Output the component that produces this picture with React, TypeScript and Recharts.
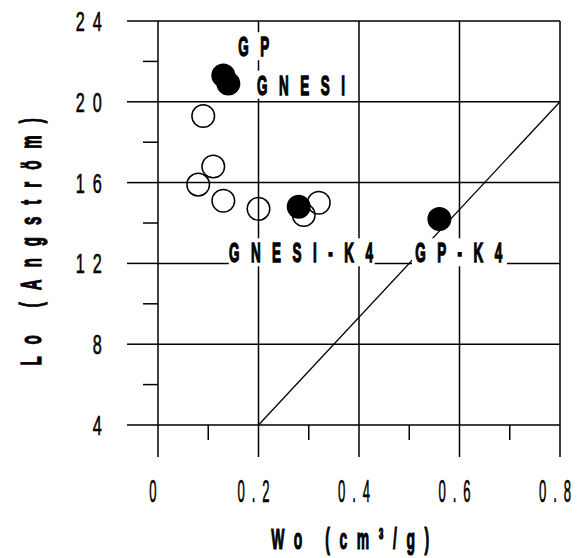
import { ScatterChart, Scatter, XAxis, YAxis, CartesianGrid, ReferenceLine } from "recharts"

// open circles (unlabelled samples)
const openW = [0.09, 0.11, 0.08, 0.13, 0.2, 0.29, 0.32]
const openL = [19.3, 16.8, 15.9, 15.1, 14.7, 14.4, 15.0]

// filled circles (named samples)
const solidNames = ["GP", "GNESI", "GNESI-K4", "GP-K4"]
const solidW = [0.13, 0.14, 0.28, 0.56]
const solidL = [21.3, 20.9, 14.8, 14.2]

// annotation anchors, in data units
const labelText = ["GP", "GNESI", "GNESI-K4", "GP-K4"]
const labelW = [0.192, 0.286, 0.286, 0.6]
const labelL = [22.75, 20.85, 12.55, 12.55]

// diagonal reference segment
const diagW = [0.2, 0.8]
const diagL = [4, 20]

const xTicks = [0, 0.1, 0.2, 0.3, 0.4, 0.5, 0.6, 0.7, 0.8]
const yTicks = [4, 6, 8, 10, 12, 14, 16, 18, 20, 22, 24]
const xGrid = [0, 0.2, 0.4, 0.6, 0.8]
const yGrid = [4, 8, 12, 16, 20, 24]

const W = 581
const H = 558
const TOP = 21
const LEFT = 158
const BOTTOM = 425
const FONT = "'Liberation Sans', Arial, sans-serif"

const openData = openW.map((w, i) => ({ w, l: openL[i] }))
const solidData = solidW.map((w, i) => ({ w, l: solidL[i], name: solidNames[i] }))
const labelData = labelW.map((w, i) => ({ w, l: labelL[i], text: labelText[i] }))

const XTick = (props: any) => {
  const { x, payload } = props
  const v = payload.value
  const major = Math.round(v * 10) % 2 === 0
  const txt = v === 0 ? "0" : v.toFixed(1)
  return (
    <g>
      <line x1={x} x2={x} y1={BOTTOM} y2={BOTTOM + (major ? 32 : 15)} stroke="#000" strokeWidth={1.5} />
      {major && (
        <text
          transform={`translate(${x - 1.5},502) scale(0.41,1)`}
          textAnchor="middle"
          fontSize={32}
          letterSpacing={17}
          fontFamily={FONT}
          fill="#000"
          stroke="#000"
          strokeWidth={0.7}
        >
          {txt}
        </text>
      )}
    </g>
  )
}

const YTick = (props: any) => {
  const { y, payload } = props
  const v = payload.value
  const major = v % 4 === 0
  return (
    <g>
      <line x1={major ? 127 : 143} x2={LEFT} y1={y} y2={y} stroke="#000" strokeWidth={1.5} />
      {major && (
        <text
          transform={`translate(110,${y + 10}) scale(0.58,1)`}
          textAnchor="end"
          fontSize={28}
          letterSpacing={14}
          fontFamily={FONT}
          fill="#000"
          stroke="#000"
          strokeWidth={0.6}
        >
          {String(v)}
        </text>
      )}
    </g>
  )
}

const OpenDot = (props: any) => (
  <circle cx={props.cx} cy={props.cy} r={11.3} fill="none" stroke="#000" strokeWidth={1.5} />
)

const SolidDot = (props: any) => <circle cx={props.cx} cy={props.cy} r={12} fill="#000" />

const Tag = (props: any) => {
  const { cx, cy, payload } = props
  const bw = payload.text.length * 17 + 10
  return (
    <g>
      <rect x={cx - bw / 2} y={cy - 14} width={bw} height={28} fill="#fff" />
      <text
        transform={`translate(${cx + 5},${cy + 10}) scale(0.48,1)`}
        textAnchor="middle"
        fontSize={28}
        fontWeight="bold"
        letterSpacing={24}
        fontFamily={FONT}
        fill="#000"
        stroke="#000"
        strokeWidth={1.4}
      >
        {payload.text}
      </text>
    </g>
  )
}

export default function App() {
  return (
    <div style={{ position: "absolute", left: 0, top: 0, width: W, height: H, background: "#fff" }}>
      <ScatterChart width={W} height={H} margin={{ top: TOP, right: 21, left: 0, bottom: 0 }}>
        <CartesianGrid
          stroke="#000"
          strokeWidth={1.5}
          verticalValues={xGrid}
          horizontalValues={yGrid}
        />
        <XAxis
          type="number"
          dataKey="w"
          domain={[0, 0.8]}
          ticks={xTicks}
          interval={0}
          height={H - BOTTOM}
          axisLine={false}
          tickLine={false}
          tick={<XTick />}
          label={{
            content: () => (
              <text
                transform="translate(355,549) scale(0.48,1)"
                textAnchor="middle"
                fontSize={29}
                fontWeight="bold"
                letterSpacing={20}
                fontFamily={FONT}
                fill="#000"
                stroke="#000"
                strokeWidth={1.2}
              >
                Wo (cm³/g)
              </text>
            ),
          }}
        />
        <YAxis
          type="number"
          dataKey="l"
          domain={[4, 24]}
          ticks={yTicks}
          interval={0}
          width={LEFT}
          axisLine={false}
          tickLine={false}
          tick={<YTick />}
          label={{
            content: () => (
              <text
                transform="translate(41,236) rotate(-90) scale(0.5,1)"
                textAnchor="middle"
                fontSize={30}
                fontWeight="bold"
                letterSpacing={24}
                fontFamily={FONT}
                fill="#000"
                stroke="#000"
                strokeWidth={1.2}
              >
                Lo (Angström)
              </text>
            ),
          }}
        />
        <ReferenceLine
          segment={[
            { x: diagW[0], y: diagL[0] },
            { x: diagW[1], y: diagL[1] },
          ]}
          stroke="#000"
          strokeWidth={1.3}
        />
        <Scatter data={openData} shape={<OpenDot />} isAnimationActive={false} />
        <Scatter data={solidData} shape={<SolidDot />} isAnimationActive={false} />
        <Scatter data={labelData} shape={<Tag />} isAnimationActive={false} />
      </ScatterChart>
    </div>
  )
}
